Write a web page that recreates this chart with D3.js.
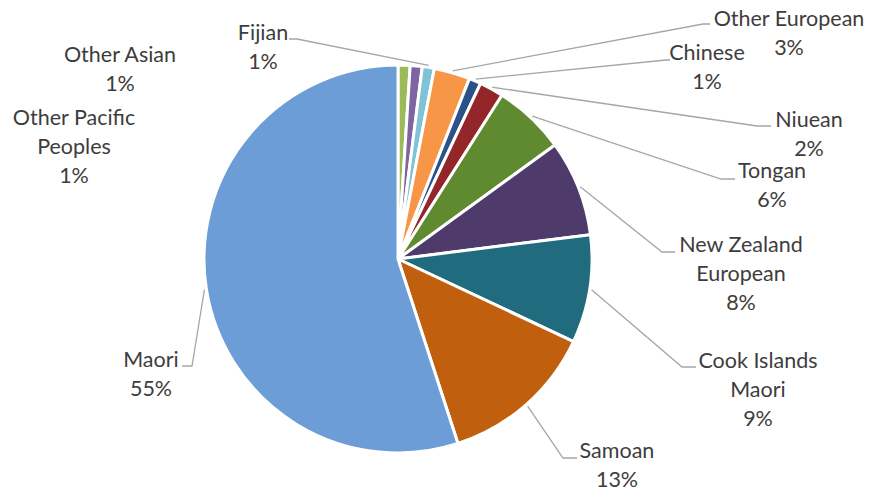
<!DOCTYPE html>
<html>
<head>
<meta charset="utf-8">
<script src="https://cdn.jsdelivr.net/npm/d3@7/dist/d3.min.js"></script>
<style>
  html, body { margin: 0; padding: 0; background: #fff; }
  svg { display: block; }
  .lbl { font-family: Lato, "Open Sans", sans-serif; font-size: 21.5px; fill: #3d3d3d; }
</style>
</head>
<body>
<svg id="chart" width="874" height="497"></svg>
<script>
// Ethnic groups, in drawing order clockwise from 12 o'clock
const groups = ["Other Pacific Peoples", "Other Asian", "Fijian", "Other European", "Chinese",
                "Niuean", "Tongan", "New Zealand European", "Cook Islands Maori", "Samoan", "Maori"];
// Share of total, percent
const shares = [1, 1, 1, 3, 1, 2, 6, 8, 9, 13, 55];
const colours = ["#9BBB59", "#8064A2", "#7FC3D6", "#F79646", "#2A5289",
                 "#932628", "#5F8A2F", "#4E3B6C", "#206C7E", "#C0600F", "#6C9DD6"];
// Label text lines for each group
const labelLines = [
  ["Other Pacific", "Peoples", "1%"],
  ["Other Asian", "1%"],
  ["Fijian", "1%"],
  ["Other European", "3%"],
  ["Chinese", "1%"],
  ["Niuean", "2%"],
  ["Tongan", "6%"],
  ["New Zealand", "European", "8%"],
  ["Cook Islands", "Maori", "9%"],
  ["Samoan", "13%"],
  ["Maori", "55%"]
];

// Label placement: text centre x, first baseline y, leader elbow (ex, ey) and short horizontal end hx
const labelLayout = [
  { x: 74,  y: 125, leader: false },
  { x: 120, y: 62,  leader: false },
  { x: 263, y: 40,  leader: true, ex: 297, ey: 39,  hx: 289 },
  { x: 789, y: 26,  leader: true, ex: 703, ey: 24,  hx: 710 },
  { x: 707, y: 60,  leader: true, ex: 666, ey: 60,  hx: 670 },
  { x: 809, y: 127, leader: true, ex: 757, ey: 126, hx: 771 },
  { x: 772, y: 178, leader: true, ex: 721, ey: 179, hx: 735 },
  { x: 741, y: 252, leader: true, ex: 662, ey: 252, hx: 675 },
  { x: 758, y: 368, leader: true, ex: 682, ey: 367, hx: 696 },
  { x: 617, y: 458, leader: true, ex: 563, ey: 458, hx: 577 },
  { x: 151, y: 367, leader: true, ex: 192, ey: 366, hx: 182 }
];

const svg = d3.select("#chart");
const cx = 398, cy = 259, radius = 194;
const lineGap = 29;

const data = groups.map((g, i) => ({ group: g, share: shares[i], colour: colours[i], i }));

const pie = d3.pie().sort(null).value(d => d.share).startAngle(0).endAngle(2 * Math.PI);
const arcs = pie(data);
const arc = d3.arc().innerRadius(0).outerRadius(radius);

const g = svg.append("g").attr("transform", `translate(${cx},${cy})`);

g.selectAll("path.slice")
  .data(arcs)
  .join("path")
  .attr("class", "slice")
  .attr("d", arc)
  .attr("fill", d => d.data.colour)
  .attr("stroke", "#fff")
  .attr("stroke-width", 3)
  .attr("stroke-linejoin", "round");

// Leader lines from slice edge to label
const leaders = svg.append("g")
  .attr("fill", "none")
  .attr("stroke", "#A6A6A6")
  .attr("stroke-width", 1.3);

arcs.forEach((a, i) => {
  const L = labelLayout[i];
  if (!L.leader) return;
  const mid = (a.startAngle + a.endAngle) / 2;
  const r0 = radius + 2;
  const sx = cx + r0 * Math.sin(mid);
  const sy = cy - r0 * Math.cos(mid);
  leaders.append("polyline")
    .attr("points", `${sx},${sy} ${L.ex},${L.ey} ${L.hx},${L.ey}`);
});

// Data labels
const labels = svg.append("g");
labelLines.forEach((lines, i) => {
  const L = labelLayout[i];
  const t = labels.append("text")
    .attr("class", "lbl")
    .attr("text-anchor", "middle")
    .attr("x", L.x)
    .attr("y", L.y);
  lines.forEach((s, k) => {
    t.append("tspan").attr("x", L.x).attr("y", L.y + k * lineGap).text(s);
  });
});
</script>
</body>
</html>
